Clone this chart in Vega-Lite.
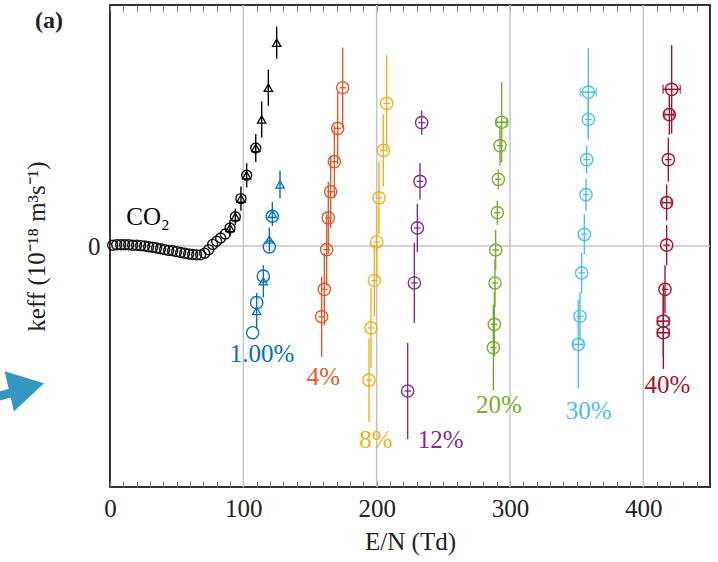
{
  "$schema": "https://vega.github.io/schema/vega-lite/v6.json",
  "width": 600,
  "height": 482,
  "autosize": "none",
  "padding": {"left": 110, "top": 5, "right": 8, "bottom": 75},
  "background": "white",
  "config": {
    "view": {"stroke": "#333333", "strokeWidth": 2},
    "font": "Liberation Serif",
    "axis": {"labelFont": "Liberation Serif", "titleFont": "Liberation Serif", "labelColor": "#222222", "titleColor": "#222222", "titleFontWeight": "normal"},
    "axisX": {"labelOverlap": false}
  },
  "datasets": {
    "grid": [{"x": 100}, {"x": 200}, {"x": 300}, {"x": 400}],
    "zero": [{"y": 0}],
    "pts": [
      {"s": "CO2", "x": 2, "y": 0.02, "ey": 0, "ex": 0, "m": "o"},
      {"s": "CO2", "x": 5, "y": 0.03, "ey": 0, "ex": 0, "m": "o"},
      {"s": "CO2", "x": 8, "y": 0.03, "ey": 0, "ex": 0, "m": "o"},
      {"s": "CO2", "x": 11, "y": 0.03, "ey": 0, "ex": 0, "m": "o"},
      {"s": "CO2", "x": 14, "y": 0.03, "ey": 0, "ex": 0, "m": "o"},
      {"s": "CO2", "x": 17, "y": 0.02, "ey": 0, "ex": 0, "m": "o"},
      {"s": "CO2", "x": 20, "y": 0.02, "ey": 0, "ex": 0, "m": "o"},
      {"s": "CO2", "x": 23, "y": 0.01, "ey": 0, "ex": 0, "m": "o"},
      {"s": "CO2", "x": 26, "y": 0.0, "ey": 0, "ex": 0, "m": "o"},
      {"s": "CO2", "x": 29, "y": -0.02, "ey": 0, "ex": 0, "m": "o"},
      {"s": "CO2", "x": 32, "y": -0.03, "ey": 0, "ex": 0, "m": "o"},
      {"s": "CO2", "x": 35, "y": -0.05, "ey": 0, "ex": 0, "m": "o"},
      {"s": "CO2", "x": 38, "y": -0.07, "ey": 0, "ex": 0, "m": "o"},
      {"s": "CO2", "x": 41, "y": -0.09, "ey": 0, "ex": 0, "m": "o"},
      {"s": "CO2", "x": 44, "y": -0.11, "ey": 0, "ex": 0, "m": "o"},
      {"s": "CO2", "x": 47, "y": -0.12, "ey": 0, "ex": 0, "m": "o"},
      {"s": "CO2", "x": 50, "y": -0.14, "ey": 0, "ex": 0, "m": "o"},
      {"s": "CO2", "x": 53, "y": -0.16, "ey": 0, "ex": 0, "m": "o"},
      {"s": "CO2", "x": 56, "y": -0.18, "ey": 0, "ex": 0, "m": "o"},
      {"s": "CO2", "x": 59, "y": -0.2, "ey": 0, "ex": 0, "m": "o"},
      {"s": "CO2", "x": 62, "y": -0.21, "ey": 0, "ex": 0, "m": "o"},
      {"s": "CO2", "x": 65, "y": -0.22, "ey": 0, "ex": 0, "m": "o"},
      {"s": "CO2", "x": 68, "y": -0.22, "ey": 0, "ex": 0, "m": "o"},
      {"s": "CO2", "x": 71, "y": -0.18, "ey": 0, "ex": 0, "m": "o"},
      {"s": "CO2", "x": 74, "y": -0.09, "ey": 0, "ex": 0, "m": "o"},
      {"s": "CO2", "x": 77, "y": 0.04, "ey": 0, "ex": 0, "m": "o"},
      {"s": "CO2", "x": 80, "y": 0.12, "ey": 0, "ex": 0, "m": "o"},
      {"s": "CO2", "x": 83, "y": 0.2, "ey": 0, "ex": 0, "m": "o"},
      {"s": "CO2", "x": 86.5, "y": 0.3, "ey": 0, "ex": 0, "m": "o"},
      {"s": "CO2", "x": 90, "y": 0.45, "ey": 0, "ex": 0, "m": "o"},
      {"s": "CO2", "x": 94, "y": 0.73, "ey": 0, "ex": 0, "m": "o"},
      {"s": "CO2", "x": 98.2, "y": 1.18, "ey": 0, "ex": 0, "m": "o"},
      {"s": "CO2", "x": 102.5, "y": 1.76, "ey": 0, "ex": 0, "m": "o"},
      {"s": "CO2", "x": 109.3, "y": 2.44, "ey": 0, "ex": 0, "m": "o"},
      {"s": "CO2", "x": 90, "y": 0.45, "ey": 0.2, "ex": 0, "m": "t"},
      {"s": "CO2", "x": 94, "y": 0.73, "ey": 0.2, "ex": 0, "m": "t"},
      {"s": "CO2", "x": 98.2, "y": 1.18, "ey": 0.3, "ex": 0, "m": "t"},
      {"s": "CO2", "x": 102.5, "y": 1.76, "ey": 0.3, "ex": 0, "m": "t"},
      {"s": "CO2", "x": 109.3, "y": 2.44, "ey": 0.35, "ex": 0, "m": "t"},
      {"s": "CO2", "x": 113.75, "y": 3.15, "ey": 0.45, "ex": 0, "m": "t"},
      {"s": "CO2", "x": 118.75, "y": 3.94, "ey": 0.45, "ex": 0, "m": "t"},
      {"s": "CO2", "x": 125, "y": 5.06, "ey": 0.4, "ex": 0, "m": "t"},
      {"s": "1%", "x": 127.5, "y": 1.53, "ey": 0.35, "ex": 0, "m": "t"},
      {"s": "1%", "x": 121.75, "y": 0.8, "ey": 0.3, "ex": 0, "m": "t"},
      {"s": "1%", "x": 119.5, "y": 0.16, "ey": 0.3, "ex": 0, "m": "t"},
      {"s": "1%", "x": 115, "y": -0.88, "ey": 0.4, "ex": 0, "m": "t"},
      {"s": "1%", "x": 110, "y": -1.62, "ey": 0.45, "ex": 0, "m": "t"},
      {"s": "1%", "x": 121.75, "y": 0.74, "ey": 0, "ex": 0, "m": "o"},
      {"s": "1%", "x": 119.5, "y": -0.02, "ey": 0, "ex": 0, "m": "o"},
      {"s": "1%", "x": 115, "y": -0.75, "ey": 0, "ex": 0, "m": "o"},
      {"s": "1%", "x": 110, "y": -1.41, "ey": 0, "ex": 0, "m": "o"},
      {"s": "1%", "x": 107, "y": -2.16, "ey": 0, "ex": 0, "m": "o"},
      {"s": "4%", "x": 174.5, "y": 3.94, "ey": 1.0, "ex": 2.5, "m": "o"},
      {"s": "4%", "x": 170.75, "y": 2.93, "ey": 0.9, "ex": 2.5, "m": "o"},
      {"s": "4%", "x": 168.25, "y": 2.1, "ey": 0.9, "ex": 2.5, "m": "o"},
      {"s": "4%", "x": 165.5, "y": 1.35, "ey": 0.9, "ex": 2.5, "m": "o"},
      {"s": "4%", "x": 163.75, "y": 0.7, "ey": 0.9, "ex": 2.5, "m": "o"},
      {"s": "4%", "x": 162.5, "y": -0.09, "ey": 0.9, "ex": 2.5, "m": "o"},
      {"s": "4%", "x": 160.75, "y": -1.08, "ey": 0.9, "ex": 2.5, "m": "o"},
      {"s": "4%", "x": 158.75, "y": -1.76, "ey": 1.0, "ex": 2.5, "m": "o"},
      {"s": "8%", "x": 207.5, "y": 3.55, "ey": 1.2, "ex": 2.5, "m": "o"},
      {"s": "8%", "x": 205, "y": 2.38, "ey": 0.9, "ex": 2.5, "m": "o"},
      {"s": "8%", "x": 201.75, "y": 1.2, "ey": 0.9, "ex": 2.5, "m": "o"},
      {"s": "8%", "x": 200, "y": 0.1, "ey": 0.9, "ex": 2.5, "m": "o"},
      {"s": "8%", "x": 198.25, "y": -0.86, "ey": 0.9, "ex": 2.5, "m": "o"},
      {"s": "8%", "x": 195.75, "y": -2.04, "ey": 1.0, "ex": 2.5, "m": "o"},
      {"s": "8%", "x": 194.25, "y": -3.34, "ey": 1.05, "ex": 2.5, "m": "o"},
      {"s": "12%", "x": 233.75, "y": 3.07, "ey": 0.3, "ex": 2.5, "m": "o"},
      {"s": "12%", "x": 232.5, "y": 1.61, "ey": 0.45, "ex": 2.5, "m": "o"},
      {"s": "12%", "x": 230.5, "y": 0.45, "ey": 0.6, "ex": 2.5, "m": "o"},
      {"s": "12%", "x": 228.25, "y": -0.92, "ey": 1.0, "ex": 2.5, "m": "o"},
      {"s": "12%", "x": 223.25, "y": -3.61, "ey": 1.2, "ex": 2.5, "m": "o"},
      {"s": "20%", "x": 293.75, "y": 3.08, "ey": 1.0, "ex": 4, "m": "o"},
      {"s": "20%", "x": 292.5, "y": 2.5, "ey": 0.5, "ex": 2.5, "m": "o"},
      {"s": "20%", "x": 291.25, "y": 1.66, "ey": 0.25, "ex": 2.5, "m": "o"},
      {"s": "20%", "x": 290.5, "y": 0.83, "ey": 0.3, "ex": 2.5, "m": "o"},
      {"s": "20%", "x": 289.25, "y": -0.1, "ey": 0.5, "ex": 2.5, "m": "o"},
      {"s": "20%", "x": 288.75, "y": -0.92, "ey": 0.6, "ex": 2.5, "m": "o"},
      {"s": "20%", "x": 288.25, "y": -1.95, "ey": 0.8, "ex": 2.5, "m": "o"},
      {"s": "20%", "x": 287.5, "y": -2.53, "ey": 1.07, "ex": 2.5, "m": "o"},
      {"s": "30%", "x": 358.75, "y": 3.83, "ey": 1.1, "ex": 6, "m": "o"},
      {"s": "30%", "x": 358.75, "y": 3.15, "ey": 0.5, "ex": 2.5, "m": "o"},
      {"s": "30%", "x": 357.5, "y": 2.15, "ey": 0.35, "ex": 2.5, "m": "o"},
      {"s": "30%", "x": 357, "y": 1.28, "ey": 0.4, "ex": 2.5, "m": "o"},
      {"s": "30%", "x": 355.75, "y": 0.29, "ey": 0.5, "ex": 2.5, "m": "o"},
      {"s": "30%", "x": 353.75, "y": -0.67, "ey": 0.5, "ex": 2.5, "m": "o"},
      {"s": "30%", "x": 352.5, "y": -1.75, "ey": 0.6, "ex": 2.5, "m": "o"},
      {"s": "30%", "x": 351.25, "y": -2.45, "ey": 1.1, "ex": 3.5, "m": "o"},
      {"s": "40%", "x": 421.25, "y": 3.9, "ey": 1.1, "ex": 6.5, "m": "o"},
      {"s": "40%", "x": 419.5, "y": 3.27, "ey": 0.5, "ex": 3.5, "m": "o"},
      {"s": "40%", "x": 418.75, "y": 2.15, "ey": 0.55, "ex": 2.5, "m": "o"},
      {"s": "40%", "x": 417.5, "y": 1.08, "ey": 0.45, "ex": 3.5, "m": "o"},
      {"s": "40%", "x": 417.5, "y": 0.02, "ey": 0.5, "ex": 2.5, "m": "o"},
      {"s": "40%", "x": 416.25, "y": -1.08, "ey": 0.6, "ex": 2.5, "m": "o"},
      {"s": "40%", "x": 415, "y": -1.87, "ey": 0.9, "ex": 4.5, "m": "o"},
      {"s": "40%", "x": 415, "y": -2.16, "ey": 0.9, "ex": 4.5, "m": "o"}
    ],
    "labels": [
      {"s": "CO2", "x": 28.5, "y": 0.71, "t": "CO₂"},
      {"s": "1%", "x": 114, "y": -2.7, "t": "1.00%"},
      {"s": "4%", "x": 160, "y": -3.27, "t": "4%"},
      {"s": "8%", "x": 199.5, "y": -4.84, "t": "8%"},
      {"s": "12%", "x": 248, "y": -4.84, "t": "12%"},
      {"s": "20%", "x": 291.75, "y": -3.97, "t": "20%"},
      {"s": "30%", "x": 359, "y": -4.1, "t": "30%"},
      {"s": "40%", "x": 418, "y": -3.47, "t": "40%"}
    ],
    "panel": [{"x": -45.75, "y": 5.61, "t": "(a)"}],
    "arrowHead": [{"x": -62.5, "y": -3.52}],
    "arrowShaft": [{"x": -86, "x2": -70, "y": -3.76, "y2": -3.62}]
  },
  "layer": [
    {
      "data": {"name": "grid"},
      "mark": {"type": "rule", "color": "#c4c4c4", "strokeWidth": 1.5},
      "encoding": {
        "x": {
          "field": "x", "type": "quantitative", "title": "E/N (Td)",
          "scale": {"domain": [0, 450], "nice": false, "zero": false},
          "axis": {"orient": "bottom", "values": [0,10,20,30,40,50,60,70,80,90,100,110,120,130,140,150,160,170,180,190,200,210,220,230,240,250,260,270,280,290,300,310,320,330,340,350,360,370,380,390,400,410,420,430,440], "labelExpr": "datum.value % 100 === 0 ? datum.label : ''", "labelOverlap": false, "labelFlush": false, "domain": false, "ticks": false, "grid": true, "gridColor": "#777777", "gridWidth": 1.1, "gridOpacity": 1, "gridDash": [6, 470, 6, 1000], "labelFontSize": 25, "labelPadding": 9, "titleFontSize": 25, "titlePadding": 8}
        }
      }
    },
    {
      "data": {"name": "zero"},
      "mark": {"type": "rule", "color": "#c4c4c4", "strokeWidth": 1.5},
      "encoding": {
        "y": {
          "field": "y", "type": "quantitative", "title": "keff (10⁻¹⁸ m³s⁻¹)",
          "scale": {"domain": [-6, 6], "nice": false, "zero": false},
          "axis": {"values": [0], "ticks": false, "domain": false, "grid": false, "labelFontSize": 25, "labelPadding": 10, "titleFontSize": 25, "titlePadding": 38}
        }
      }
    },
    {
      "encoding": {
        "x": {
          "field": "x", "type": "quantitative", "title": "E/N (Td)",
          "scale": {"domain": [0, 450], "nice": false, "zero": false},
          "axis": {"orient": "bottom", "values": [0,10,20,30,40,50,60,70,80,90,100,110,120,130,140,150,160,170,180,190,200,210,220,230,240,250,260,270,280,290,300,310,320,330,340,350,360,370,380,390,400,410,420,430,440], "labelExpr": "datum.value % 100 === 0 ? datum.label : ''", "labelOverlap": false, "labelFlush": false, "domain": false, "ticks": false, "grid": true, "gridColor": "#777777", "gridWidth": 1.1, "gridOpacity": 1, "gridDash": [6, 470, 6, 1000], "labelFontSize": 25, "labelPadding": 9, "titleFontSize": 25, "titlePadding": 8}
        },
        "y": {
          "field": "y", "type": "quantitative", "title": "keff (10⁻¹⁸ m³s⁻¹)",
          "scale": {"domain": [-6, 6], "nice": false, "zero": false},
          "axis": {"values": [0], "ticks": false, "domain": false, "grid": false, "labelFontSize": 25, "labelPadding": 10, "titleFontSize": 25, "titlePadding": 38}
        },
        "color": {"field": "s", "type": "nominal", "legend": null, "scale": {"domain": ["CO2", "1%", "4%", "8%", "12%", "20%", "30%", "40%"], "range": ["#000000", "#0072BD", "#E0592A", "#EDB120", "#7E2F8E", "#77AC30", "#4DBEEE", "#A2142F"]}}
      },
      "layer": [
        {
          "data": {"name": "pts"},
          "transform": [{"filter": "datum.ey > 0"}],
          "mark": {"type": "errorbar", "thickness": 1.4},
          "encoding": {"yError": {"field": "ey"}}
        },
        {
          "data": {"name": "pts"},
          "transform": [{"filter": "datum.ex > 0 && datum.ex < 3"}],
          "mark": {"type": "errorbar", "thickness": 1.3},
          "encoding": {"xError": {"field": "ex"}}
        },
        {
          "data": {"name": "pts"},
          "transform": [{"filter": "datum.ex >= 3"}],
          "mark": {"type": "errorbar", "thickness": 1.6, "ticks": {"size": 9, "thickness": 1.6}},
          "encoding": {"xError": {"field": "ex"}}
        },
        {
          "data": {"name": "pts"},
          "transform": [{"filter": "datum.m === 'o' && datum.s === 'CO2'"}],
          "mark": {"type": "point", "shape": "circle", "filled": false, "size": 100, "strokeWidth": 1.4, "opacity": 0.9}
        },
        {
          "data": {"name": "pts"},
          "transform": [{"filter": "datum.m === 'o' && datum.s !== 'CO2'"}],
          "mark": {"type": "point", "shape": "circle", "filled": false, "size": 150, "strokeWidth": 1.4, "opacity": 1}
        },
        {
          "data": {"name": "pts"},
          "transform": [{"filter": "datum.m === 't'"}],
          "mark": {"type": "point", "shape": "triangle-up", "filled": false, "size": 70, "strokeWidth": 1.3, "opacity": 1}
        },
        {
          "data": {"name": "labels"},
          "mark": {"type": "text", "fontSize": 25, "font": "Liberation Serif", "align": "center", "baseline": "middle"},
          "encoding": {"text": {"field": "t"}}
        },
        {
          "data": {"name": "panel"},
          "mark": {"type": "text", "fontSize": 24, "fontWeight": "bold", "font": "Liberation Serif", "align": "center", "baseline": "middle"},
          "encoding": {"text": {"field": "t"}, "color": {"value": "#222222"}}
        },
        {
          "data": {"name": "arrowShaft"},
          "mark": {"type": "rule", "strokeWidth": 9},
          "encoding": {"x2": {"field": "x2"}, "y2": {"field": "y2"}, "color": {"value": "#3497c2"}}
        },
        {
          "data": {"name": "arrowHead"},
          "mark": {"type": "point", "shape": "triangle-right", "filled": true, "size": 1700, "angle": -13, "opacity": 1},
          "encoding": {"color": {"value": "#3497c2"}}
        }
      ]
    }
  ]
}
